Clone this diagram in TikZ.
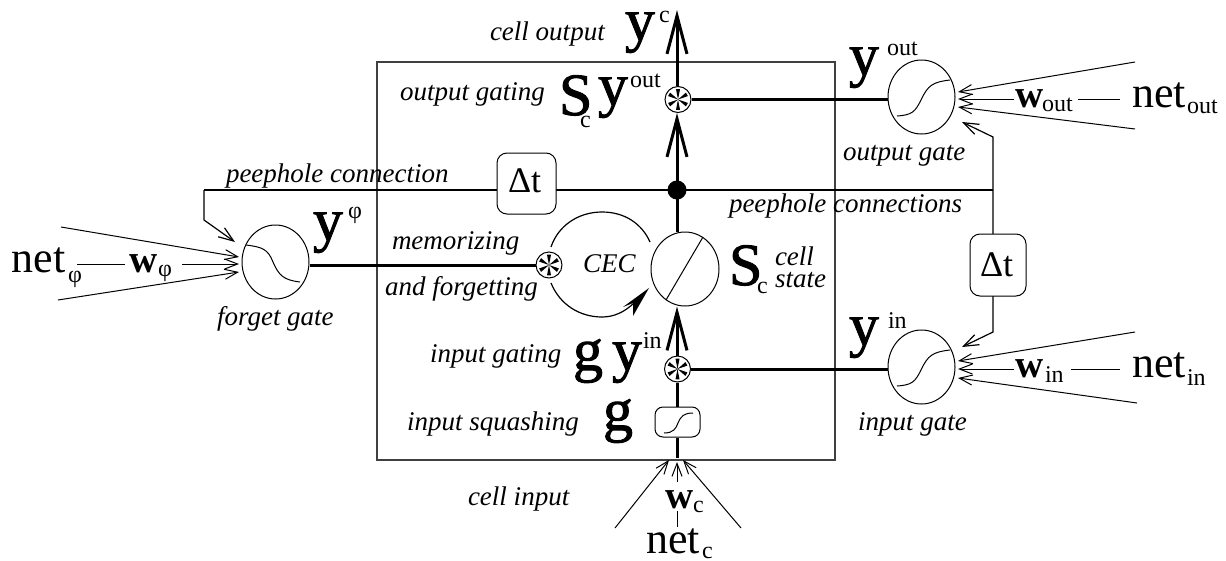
\documentclass[tikz,border=0pt]{standalone}
\usepackage{fontspec}
\setmainfont{Liberation Serif}
\newfontface\heavyserif[FakeBold=1.5]{Liberation Serif}
\usetikzlibrary{arrows.meta,shapes.geometric}
\newcommand{\fs}[1]{\fontsize{#1}{#1}\selectfont}
\tikzset{
  x=1pt,y=-1pt,
  lab/.style={inner sep=0pt,outer sep=0pt,anchor=base west},
  it/.style={lab,font=\fs{27}\itshape},
  big/.style={lab,font=\heavyserif\fs{60}},
  net/.style={lab,font=\fs{44}},
  wt/.style={lab,font=\fs{39}\bfseries},
  small/.style={lab,font=\fs{24}},
  dlab/.style={lab,font=\fs{36}},
  dlt/.style={draw,line width=1pt,rounded corners=10pt,inner sep=0pt,fill=white},
  unit/.style={draw,ellipse,inner sep=0pt,line width=1pt},
  fine/.style={line width=1pt},
  heavy/.style={line width=3pt},
  peepline/.style={line width=1.2pt},
  thinarrow/.style={line width=1pt,-{Straight Barb[length=13pt,width=10pt,line width=1pt]}},
  peep/.style={line width=1.2pt,-{Straight Barb[length=15pt,width=11pt,line width=1.2pt]}},
  bigarrow/.style={line width=3pt,-{Straight Barb[length=38pt,width=20pt,line width=3pt]}},
  mult/.style={circle,draw,line width=1pt,minimum size=26pt,inner sep=0pt,fill=white},
}
\newcommand{\spokes}[1]{%
  \foreach \a in {30,90,...,330}{%
    \fill[black] (#1.center) -- ++(\a-11:10.5) -- ++(\a+90:4) -- cycle;
  }}
\begin{document}
\begin{tikzpicture}
\useasboundingbox (0,0) rectangle (1226,560);
% frame
\node[draw=black!75,line width=1.2pt,inner sep=0pt,minimum width=458pt,minimum height=398pt] (frame) at (606,261) {};
% units
\node[unit,minimum width=67pt,minimum height=74pt] (forget) at (275.5,262) {};
\node[unit,minimum width=67pt,minimum height=74pt] (outgate) at (921.5,97) {};
\node[unit,minimum width=67pt,minimum height=74pt] (ingate) at (921.5,367) {};
\node[unit,minimum width=68pt,minimum height=74pt] (state) at (685,269) {};
\node[draw,line width=1pt,rounded corners=8pt,minimum width=45pt,minimum height=30pt,inner sep=0pt] (squash) at (677.5,422) {};
\node[mult] (mout) at (678,99.5) {};
\node[mult] (min) at (677.5,369) {};
\node[mult] (mforget) at (549,265) {};
\node[circle,fill=black,minimum size=19pt,inner sep=0pt] (dot) at (677,190) {};
% coordinates
\foreach \n/\x/\y in {
 ctop/677/10, cfin/677/458, dotR/993/190, pL1/204/190, pL2/204/220, pLt/235/242,
 pO1/993/137, pOt/962/122, pI1/993/332, pIt/962/347, dotin/677/232,
 fi1s/61/227, fi1t/239/257, fi2s/77/264, fi2e/125/264, fi3s/182/264, fi3t/239/264, fi4s/58/300, fi4t/239/272,
 oi1s/1135/62, oi1t/958/92, oi2s/1014/99, oi2t/958/99, oi3s/1078/99, oi3e/1120/99, oi4s/1135/129, oi4t/958/107,
 ii1s/1135/332, ii1t/958/361, ii2s/1014/369, ii2t/958/369, ii3s/1071/369, ii3e/1120/369, ii4s/1137/403, ii4t/958/378,
 ci1s/615/528, ci1t/669/460, ci2s/677/482, ci2t/677/462, ci3s/677/511, ci3e/677/527, ci4s/741/528, ci4t/683/460}
 {\coordinate (\n) at (\x,\y);}
% thick lines
\draw[bigarrow] (mout.north-|ctop) -- (ctop);
\draw[bigarrow] (dot.center) -- (mout.south-|dot);
\draw[heavy] (dot.center) -- (dotin);
\draw[bigarrow] (min.north-|dot) -- (state.south-|dot);
\draw[heavy] (min.south-|dot) -- (squash.north-|dot);
\draw[heavy] (squash.south-|cfin) -- (cfin);
\draw[heavy] (mout.east) -- (mout.east-|outgate.west);
\draw[heavy] (min.east) -- (min.east-|ingate.west);
\draw[heavy] (forget.east|-mforget.west) -- (mforget.west);
\spokes{mout}
\spokes{min}
\spokes{mforget}
% peephole lines
\draw[peepline] (pL1) -- (dotR);
\draw[peep] (pL1) -- (pL2) -- (pLt);
\draw[peep] (dotR) -- (pO1) -- (pOt);
\draw[peep] (dotR) -- (pI1) -- (pIt);
% delta t boxes
\node[dlt,minimum width=59pt,minimum height=61pt] (d1) at (526.5,183.5) {};
\node[dlt,minimum width=56pt,minimum height=62pt] (d2) at (998,265) {};
% inputs
\draw[thinarrow] (fi1s) -- (fi1t);
\draw[fine] (fi2s) -- (fi2e);
\draw[thinarrow] (fi3s) -- (fi3t);
\draw[thinarrow] (fi4s) -- (fi4t);
\draw[thinarrow] (oi1s) -- (oi1t);
\draw[thinarrow] (oi2s) -- (oi2t);
\draw[fine] (oi3s) -- (oi3e);
\draw[thinarrow] (oi4s) -- (oi4t);
\draw[thinarrow] (ii1s) -- (ii1t);
\draw[thinarrow] (ii2s) -- (ii2t);
\draw[fine] (ii3s) -- (ii3e);
\draw[thinarrow] (ii4s) -- (ii4t);
\draw[thinarrow] (ci1s) -- (ci1t);
\draw[thinarrow] (ci2s) -- (ci2t);
\draw[fine] (ci3s) -- (ci3e);
\draw[thinarrow] (ci4s) -- (ci4t);
% curves inside units
\draw[fine] (246,245) .. controls (262,247) and (268,249) .. (273,262) .. controls (279,276) and (284,280) .. (300,282);
\draw[fine] (897,116) .. controls (912,115) and (915,112) .. (921,100) .. controls (928,85) and (933,82) .. (950,80);
\draw[fine] (897,386) .. controls (912,385) and (915,382) .. (921,370) .. controls (928,355) and (933,352) .. (950,350);
\draw[fine] (664,433) .. controls (674,433) and (676,428) .. (678,423) .. controls (681,416) and (684,413) .. (693,413);
\draw[fine] (703,237) -- (666,300);
% CEC
\draw[line width=1.2pt] (551,247) .. controls (558,226) and (578,212) .. (602,212) .. controls (625,212) and (642,224) .. (650,242);
\draw[line width=1.2pt] (551,283) .. controls (560,305) and (580,317) .. (602,317) .. controls (614,317) and (625,312) .. (635,302);
\fill (649,288) -- (623,307) -- (633,303) -- (633,316) -- cycle;
% labels
\node[it] (l1) at (490,40) {cell output};
\node[big] (yc) at (625,40) {y};
\node[small] (ycs) at (659,22) {c};
\node[it] (l2) at (400,100) {output gating};
\node[big] (sc1) at (559,115) {S};
\node[small] (sc1s) at (580,127) {c};
\node[big] (yo) at (598,105) {y};
\node[small] (yos) at (630,87) {out};
\node[it] (l3) at (226,182) {peephole connection};
\node[dlab] (dt1) at (508,192) {Δt};
\node[it] (l4) at (392,249) {memorizing};
\node[it] (l5) at (385,295) {and forgetting};
\node[it] (l6) at (583,272) {CEC};
\node[big] (sc2) at (729,285) {S};
\node[small] (sc2s) at (757,293) {c};
\node[it] (l7) at (775,265) {cell};
\node[it] (l8) at (775,287) {state};
\node[it] (l9) at (729,212) {peephole connections};
\node[it] (l10) at (430,362) {input gating};
\node[big] (g1) at (573,370) {g};
\node[big] (yi) at (612,370) {y};
\node[small] (yis) at (643,348) {in};
\node[it] (l11) at (407,430) {input squashing};
\node[big] (g2) at (603,430) {g};
\node[it] (l12) at (468,505) {cell input};
\node[wt] (wc) at (665,508) {w};
\node[small] (wcs) at (693,512) {c};
\node[net] (nc) at (646,553) {net};
\node[small] (ncs) at (702,558) {c};
\node[big] (yf) at (313,240) {y};
\node[small] (yfs) at (348,218) {φ};
\node[net] (nf) at (12,272) {net};
\node[small] (nfs) at (68,282) {φ};
\node[wt] (wf) at (129,272) {w};
\node[small] (wfs) at (158,276) {φ};
\node[it] (l13) at (217,325) {forget gate};
\node[it] (l14) at (843,160) {output gate};
\node[it] (l15) at (858,430) {input gate};
\node[big] (yro) at (849,75) {y};
\node[small] (yros) at (887,55) {out};
\node[big] (yri) at (849,345) {y};
\node[small] (yris) at (888,328) {in};
\node[wt] (wo) at (1015,107) {w};
\node[small] (wos) at (1042,111) {out};
\node[net] (no) at (1132,107) {net};
\node[small] (nos) at (1187,113) {out};
\node[wt] (wi) at (1015,377) {w};
\node[small] (wis) at (1045,382) {in};
\node[net] (ni) at (1132,377) {net};
\node[small] (nis) at (1187,385) {in};
\node[dlab] (dt2) at (980,276) {Δt};
\end{tikzpicture}
\end{document}
